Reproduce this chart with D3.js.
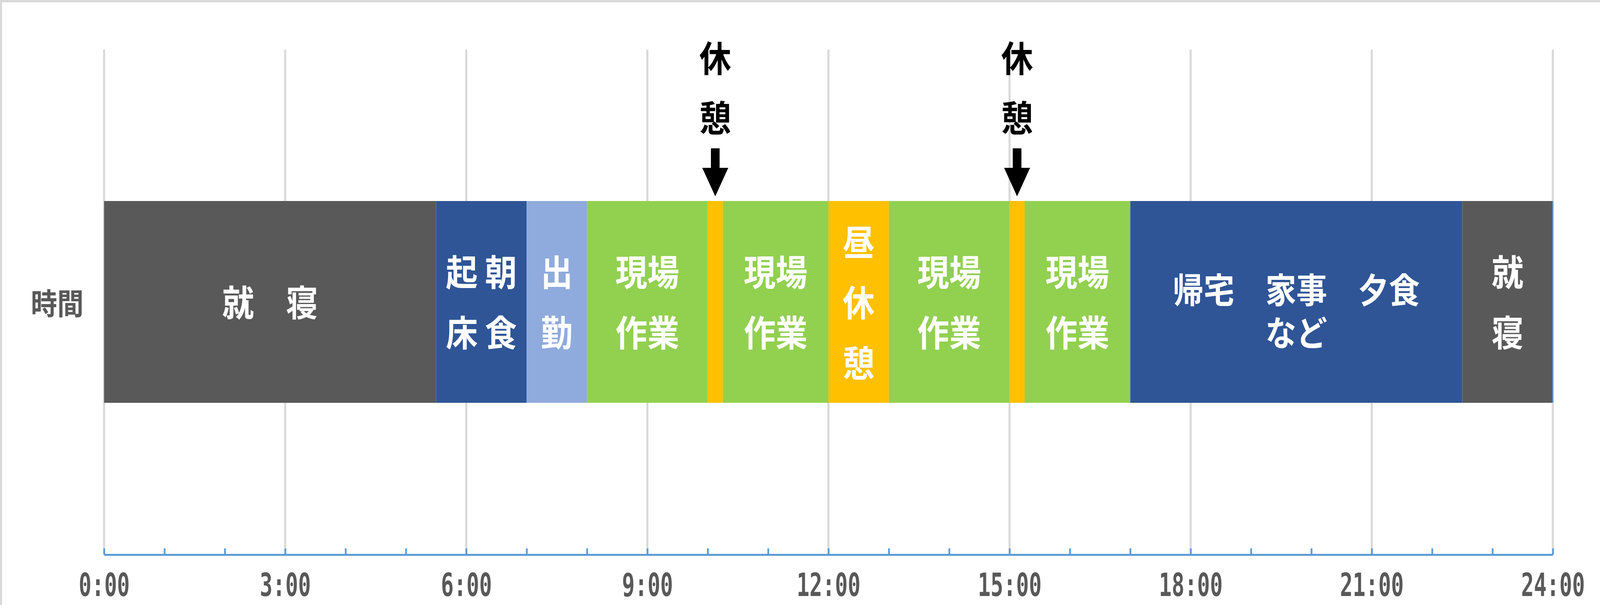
<!DOCTYPE html>
<html>
<head>
<meta charset="utf-8">
<script src="https://cdn.jsdelivr.net/npm/d3@7"></script>
<style>
  html, body { margin: 0; padding: 0; background: #fff; overflow: hidden; }
  svg { display: block; width: 100vw; height: 100vh; }
</style>
</head>
<body>
<div id="chart"></div>
<script>
// one day, hour by hour
const segStart = [0, 5.5, 7, 8, 10, 10.25, 12, 13, 15, 15.25, 17, 22.5];
const segEnd = [5.5, 7, 8, 10, 10.25, 12, 13, 15, 15.25, 17, 22.5, 24];
const segKind = ["sleep", "home", "commute", "work", "break", "work", "lunch", "work", "break", "work", "home", "sleep"];
const segLabels = [
  ["就　寝"],
  ["起 朝", "床 食"],
  ["出", "勤"],
  ["現場", "作業"],
  [],
  ["現場", "作業"],
  ["昼", "休", "憩"],
  ["現場", "作業"],
  [],
  ["現場", "作業"],
  ["帰宅　家事　夕食", "など"],
  ["就", "寝"]
];
const categoryLabel = "時間";
const calloutLines = ["休", "憩"];
const tickValues = [0, 3, 6, 9, 12, 15, 18, 21, 24];
const tickLabels = ["0:00", "3:00", "6:00", "9:00", "12:00", "15:00", "18:00", "21:00", "24:00"];

const colors = {
  sleep: "#595959",
  home: "#2f5597",
  commute: "#8faadc",
  work: "#92d050",
  break: "#ffc000",
  lunch: "#ffc000"
};

const W = 4612, H = 1550;
const plot = { left: 300, right: 4476, top: 127, bottom: 1421 };
const bar = { top: 515, bottom: 1032 };
const font = "'Noto Sans CJK JP', 'Noto Sans', sans-serif";

const x = d3.scaleLinear().domain([0, 24]).range([plot.left, plot.right]);

// scale the whole drawing to whatever the window is
const svg = d3.select("#chart").append("svg")
  .attr("viewBox", `0 0 ${W} ${H}`)
  .attr("preserveAspectRatio", "none");

// chart frame (only top/left edge visible)
svg.append("rect")
  .attr("x", 3).attr("y", 3)
  .attr("width", W + 20).attr("height", H + 20)
  .attr("fill", "none")
  .attr("stroke", "#d9d9d9")
  .attr("stroke-width", 6);

// vertical gridlines
svg.append("g")
  .selectAll("line")
  .data(tickValues)
  .join("line")
  .attr("x1", d => x(d)).attr("x2", d => x(d))
  .attr("y1", plot.top).attr("y2", plot.bottom)
  .attr("stroke", "#d9d9d9")
  .attr("stroke-width", 6);

// bars
const segs = segStart.map((s, i) => ({ s, e: segEnd[i], kind: segKind[i], lines: segLabels[i] }));

svg.append("g")
  .selectAll("rect")
  .data(segs)
  .join("rect")
  .attr("x", d => x(d.s))
  .attr("width", d => x(d.e) - x(d.s))
  .attr("y", bar.top)
  .attr("height", bar.bottom - bar.top)
  .attr("fill", d => colors[d.kind]);

svg.append("line")
  .attr("x1", x(24)).attr("x2", x(24))
  .attr("y1", bar.top).attr("y2", bar.bottom)
  .attr("stroke", "#5b9bd5")
  .attr("stroke-width", 3);

// labels inside bars
const midY = (bar.top + bar.bottom) / 2 - 4;
const lbl = svg.append("g")
  .attr("font-family", font)
  .attr("font-weight", 700)
  .attr("font-size", 92)
  .attr("fill", "#fff")
  .attr("text-anchor", "middle");

segs.forEach(d => {
  if (!d.lines.length) return;
  const wide = d.lines[0].length > 4;  // the long evening label sits tighter and lower
  const step = wide ? 110 : 155;
  const cy = wide ? midY + 22 : midY;
  const n = d.lines.length;
  lbl.append("text")
    .attr("x", (x(d.s) + x(d.e)) / 2)
    .selectAll("tspan")
    .data(d.lines)
    .join("tspan")
    .attr("x", (x(d.s) + x(d.e)) / 2)
    .attr("y", (l, i) => cy + (i - (n - 1) / 2) * step)
    .attr("dominant-baseline", "central")
    .attr("font-size", wide ? 89 : 92)
    .text(l => l);
});

// category label
svg.append("text")
  .attr("x", 165)
  .attr("y", (bar.top + bar.bottom) / 2)
  .attr("dominant-baseline", "central")
  .attr("text-anchor", "middle")
  .attr("font-family", font)
  .attr("font-weight", 700)
  .attr("font-size", 76)
  .attr("fill", "#595959")
  .text(categoryLabel);

// callouts for the short breaks
const breaks = segs.filter(d => d.kind === "break");
const co = svg.append("g");
breaks.forEach(d => {
  const cx = x((d.s + d.e) / 2);
  co.append("text")
    .attr("text-anchor", "middle")
    .attr("font-family", font)
    .attr("font-weight", 700)
    .attr("font-size", 92)
    .attr("fill", "#000")
    .selectAll("tspan")
    .data(calloutLines)
    .join("tspan")
    .attr("x", cx)
    .attr("y", (l, i) => 144 + i * 153)
    .attr("dominant-baseline", "central")
    .text(l => l);
  const tip = bar.top - 12;
  co.append("path")
    .attr("d", `M${cx - 12.5},${tip - 123} H${cx + 12.5} V${tip - 73} H${cx + 37.5} L${cx},${tip} L${cx - 37.5},${tip - 73} H${cx - 12.5} Z`)
    .attr("fill", "#000");
});

// axis: blue baseline with hourly ticks pointing up
const axisTicks = svg.append("g")
  .attr("transform", `translate(0,${plot.bottom})`)
  .call(d3.axisTop(x).ticks(24).tickSizeInner(16).tickSizeOuter(0).tickFormat(""));
axisTicks.select(".domain")
  .attr("stroke", "#5b9bd5")
  .attr("stroke-width", 5);
axisTicks.selectAll(".tick line")
  .attr("stroke", "#5b9bd5")
  .attr("stroke-width", 5);

const axisLabels = svg.append("g")
  .attr("transform", `translate(0,${plot.bottom})`)
  .call(d3.axisBottom(x).tickValues(tickValues).tickSize(0)
    .tickFormat((d, i) => tickLabels[i]));
axisLabels.select(".domain").remove();
axisLabels.selectAll(".tick text")
  .attr("y", 106)
  .attr("dy", null)
  .attr("font-family", "'DejaVu Sans Mono', 'Liberation Mono', monospace")
  .attr("font-weight", 700)
  .attr("font-size", 82)
  .attr("fill", "#595959")
  .attr("textLength", d => tickLabels[tickValues.indexOf(d)].length * 36.8)
  .attr("lengthAdjust", "spacingAndGlyphs");
</script>
</body>
</html>
